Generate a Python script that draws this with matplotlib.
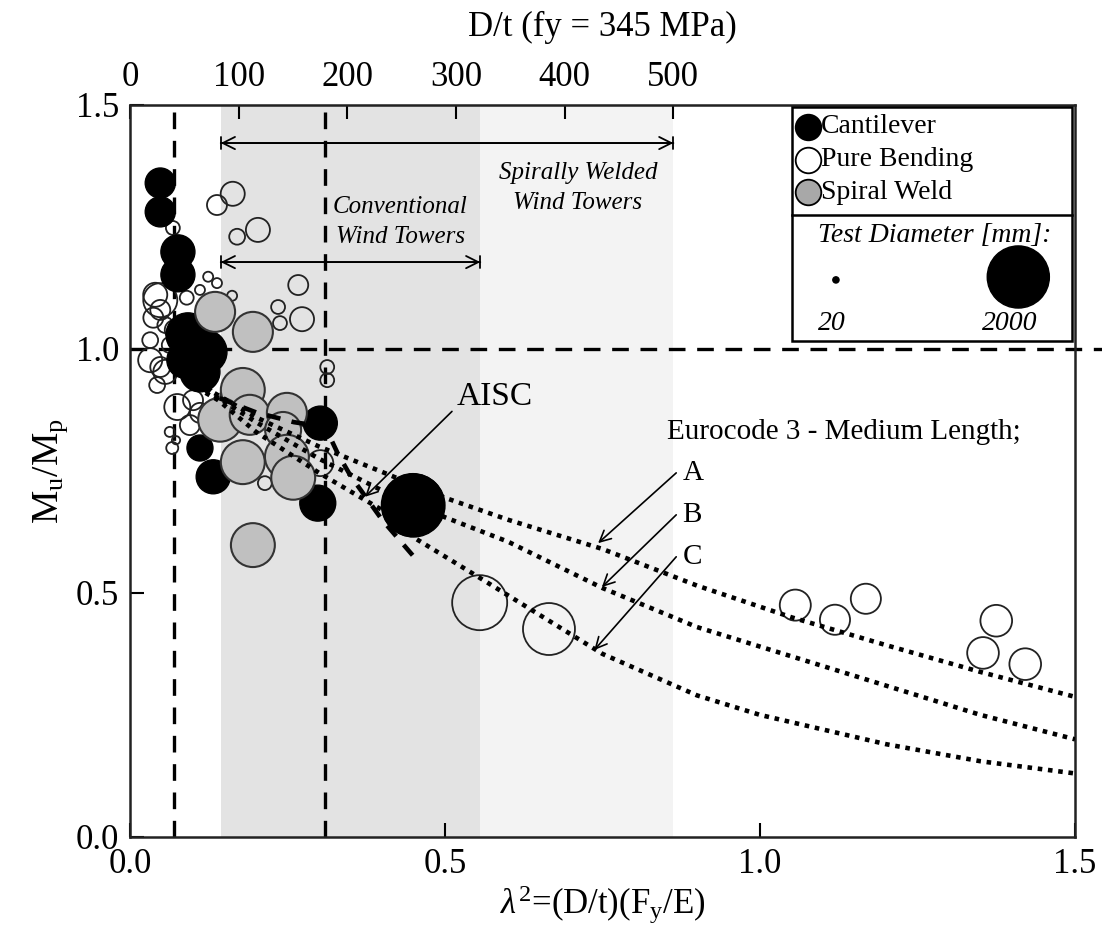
import matplotlib
matplotlib.use("Agg")
import matplotlib.pyplot as plt
from matplotlib.patches import Rectangle

plt.rcParams["font.family"] = ["Liberation Serif", "DejaVu Serif"]
plt.rcParams["mathtext.fontset"] = "custom"
plt.rcParams["mathtext.rm"] = "Liberation Serif"
plt.rcParams["mathtext.it"] = "Liberation Serif:italic"

FY_OVER_E = 345.0 / 200000.0  # top axis: D/t at fy = 345 MPa

# test data: x = lambda^2, y = Mu/Mp, d = test diameter [mm]
cant_x = [0.048, 0.048, 0.076, 0.076, 0.092, 0.119, 0.111, 0.087, 0.111, 0.132, 0.302, 0.298, 0.449]
cant_y = [1.340, 1.281, 1.199, 1.152, 1.029, 0.994, 0.953, 0.977, 0.797, 0.738, 0.848, 0.684, 0.680]
cant_d = [470, 470, 600, 600, 1000, 1000, 830, 670, 350, 600, 600, 670, 2050]

spiral_x = [0.135, 0.195, 0.179, 0.143, 0.190, 0.249, 0.243, 0.179, 0.249, 0.259, 0.195]
spiral_y = [1.076, 1.035, 0.916, 0.855, 0.865, 0.869, 0.834, 0.768, 0.779, 0.736, 0.598]
spiral_d = [830, 830, 1000, 1000, 830, 830, 670, 1000, 1000, 1000, 1000]

bend_x = [0.555, 0.665, 1.056, 1.119, 1.168, 1.375, 1.354, 1.421,
          0.138, 0.163, 0.170, 0.203, 0.267, 0.273, 0.235, 0.238, 0.162, 0.124,
          0.138, 0.111, 0.090, 0.313, 0.313, 0.068, 0.040, 0.048, 0.037, 0.056,
          0.048, 0.048, 0.043, 0.032, 0.056, 0.075, 0.100, 0.111, 0.095, 0.063,
          0.067, 0.073, 0.214, 0.302, 0.071, 0.063, 0.032, 0.156, 0.146]
bend_y = [0.480, 0.426, 0.475, 0.445, 0.488, 0.443, 0.377, 0.354,
          1.295, 1.318, 1.230, 1.244, 1.131, 1.061, 1.086, 1.053, 1.109, 1.148,
          1.135, 1.121, 1.105, 0.963, 0.936, 1.248, 1.111, 1.080, 1.064, 1.049,
          1.100, 0.963, 0.926, 0.977, 0.953, 0.881, 0.895, 0.869, 0.844, 0.830,
          0.797, 0.813, 0.725, 0.766, 1.039, 1.008, 1.018, 0.906, 1.090]
bend_d = [1570, 1400, 500, 470, 470, 520, 520, 520,
          207, 300, 130, 300, 207, 300, 100, 100, 52, 52,
          52, 52, 100, 100, 100, 100, 300, 207, 207, 130,
          600, 207, 130, 300, 300, 350, 207, 207, 207, 52,
          75, 35, 100, 350, 207, 130, 130, 130, 75]

# design curves
ec_a_x = [0.12, 0.14, 0.2, 0.3, 0.4, 0.5, 0.6, 0.75, 0.9, 1.05, 1.2, 1.35, 1.5]
ec_a_y = [0.92, 0.905, 0.86, 0.80, 0.748, 0.695, 0.65, 0.59, 0.515, 0.45, 0.393, 0.338, 0.287]
ec_b_x = [0.12, 0.14, 0.2, 0.3, 0.4, 0.5, 0.6, 0.75, 0.9, 1.0, 1.2, 1.35, 1.5]
ec_b_y = [0.915, 0.90, 0.85, 0.775, 0.71, 0.655, 0.605, 0.51, 0.43, 0.39, 0.31, 0.25, 0.20]
ec_c_x = [0.12, 0.14, 0.2, 0.3, 0.4, 0.455, 0.55, 0.65, 0.75, 0.9, 1.0, 1.2, 1.35, 1.5]
ec_c_y = [0.91, 0.895, 0.83, 0.746, 0.67, 0.61, 0.535, 0.455, 0.375, 0.29, 0.25, 0.19, 0.155, 0.13]
aisc_x = [0.07, 0.10, 0.14, 0.20, 0.26, 0.31, 0.33, 0.35, 0.40, 0.45]
aisc_y = [1.02, 0.95, 0.90, 0.87, 0.85, 0.84, 0.785, 0.74, 0.65, 0.575]

# limits: AISC compact / slender, tower ranges
aisc_limits = [0.07, 0.31]
conv_range = [0.144, 0.556]
spiral_range = [0.144, 0.8625]
dt_ticks = [0, 100, 200, 300, 400, 500]

SIZE_PER_MM = 1.0

fig = plt.figure(figsize=(11.02, 9.51), dpi=100)
ax = fig.add_axes([0.118, 0.12, 0.8575, 0.7696])

ax.axvspan(conv_range[0], conv_range[1], color="#e3e3e3", lw=0, zorder=0)
ax.axvspan(conv_range[1], spiral_range[1], color="#f3f3f3", lw=0, zorder=0)

for xv in aisc_limits:
    ax.axvline(xv, color="k", lw=2.4, ls=(0, (5, 3.5)), zorder=1)
ax.plot([0, 1.545], [1.0, 1.0], color="k", lw=2.4, ls=(0, (5, 3.5)), zorder=1, clip_on=False)

ax.scatter(bend_x, bend_y, s=[d * SIZE_PER_MM for d in bend_d], facecolors="none",
           edgecolors="#222222", linewidths=1.3, zorder=3)
ax.scatter(cant_x, cant_y, s=[d * SIZE_PER_MM for d in cant_d], c="k",
           edgecolors="k", linewidths=1.0, zorder=4)
ax.scatter(spiral_x, spiral_y, s=[d * SIZE_PER_MM for d in spiral_d], c="#c0c0c0",
           edgecolors="#333333", linewidths=1.5, zorder=5)

dot = (0, (1, 1.25))
ax.plot(ec_a_x, ec_a_y, color="k", lw=3.3, ls=dot, zorder=6)
ax.plot(ec_b_x, ec_b_y, color="k", lw=3.3, ls=dot, zorder=6)
ax.plot(ec_c_x, ec_c_y, color="k", lw=3.3, ls=dot, zorder=6)
ax.plot(aisc_x, aisc_y, color="k", lw=3.3, ls=(0, (3, 2.5)), zorder=6)

# largest test drawn over the curves
big = [i for i, d in enumerate(cant_d) if d > 1500]
ax.scatter([cant_x[i] for i in big], [cant_y[i] for i in big],
           s=[cant_d[i] * SIZE_PER_MM for i in big], c="k", zorder=7)

# range arrows
for rng, yv in [(spiral_range, 1.422), (conv_range, 1.178)]:
    ax.annotate("", xy=(rng[0], yv), xytext=(rng[1], yv),
                arrowprops=dict(arrowstyle="<->", lw=1.3, color="k", mutation_scale=22,
                                shrinkA=0, shrinkB=0), zorder=8)
    ax.annotate("", xy=(rng[0], yv), xytext=(rng[1], yv),
                arrowprops=dict(arrowstyle="|-|, widthA=0.45, widthB=0.45", lw=1.3, color="k",
                                shrinkA=0, shrinkB=0), zorder=8)
ax.text(0.429, 1.26, "Conventional\nWind Towers", style="italic", fontsize=18,
        ha="center", va="center", linespacing=1.45)
ax.text(0.711, 1.33, "Spirally Welded\nWind Towers", style="italic", fontsize=18,
        ha="center", va="center", linespacing=1.45)

# AISC annotation
ax.text(0.579, 0.902, "AISC", fontsize=24, ha="center", va="center")
ax.annotate("", xy=(0.373, 0.697), xytext=(0.511, 0.872),
            arrowprops=dict(arrowstyle="->", lw=1.2, color="k", mutation_scale=20,
                            shrinkA=0, shrinkB=0), zorder=8)

# Eurocode annotation
ax.text(0.852, 0.83, "Eurocode 3 - Medium Length;", fontsize=21, ha="left", va="center")
for lab, tip, ly in [("A", (0.743, 0.602), 0.746), ("B", (0.749, 0.512), 0.66),
                     ("C", (0.737, 0.383), 0.574)]:
    ax.text(0.877, ly, lab, fontsize=21, ha="left", va="center")
    ax.annotate("", xy=tip, xytext=(0.867, ly),
                arrowprops=dict(arrowstyle="->", lw=1.2, color="k", mutation_scale=20,
                                shrinkA=0, shrinkB=0), zorder=8)

# legend box
tr = ax.transAxes
ax.add_patch(Rectangle((0.70, 0.678), 0.297, 0.319, transform=tr, fill=True, fc="white",
                       ec="k", lw=1.8, zorder=9))
ax.plot([0.70, 0.997], [0.85, 0.85], color="k", lw=1.8, transform=tr, zorder=10)
for lab, fc, yy in [("Cantilever", "k", 0.970), ("Pure Bending", "white", 0.925),
                    ("Spiral Weld", "#a8a8a8", 0.881)]:
    ax.scatter([0.717], [yy], s=340, c=fc, edgecolors="k", linewidths=1.3,
               transform=tr, zorder=11, clip_on=False)
    ax.text(0.731, yy, lab, fontsize=20, ha="left", va="center", transform=tr, zorder=11)
ax.text(0.852, 0.822, "Test Diameter [mm]:", fontsize=20, style="italic",
        ha="center", va="center", transform=tr, zorder=11)
leg_d = [20, 2000]
ax.scatter([0.747, 0.940], [0.761, 0.765], s=[d * SIZE_PER_MM for d in leg_d], c="k",
           transform=tr, zorder=11, clip_on=False)
ax.text(0.743, 0.702, str(leg_d[0]), fontsize=20, style="italic", ha="center",
        va="center", transform=tr, zorder=11)
ax.text(0.931, 0.702, str(leg_d[1]), fontsize=20, style="italic", ha="center",
        va="center", transform=tr, zorder=11)

ax.set_xlim(0, 1.5)
ax.set_ylim(0, 1.5)
ax.set_xticks([0.0, 0.5, 1.0, 1.5])
ax.set_yticks([0.0, 0.5, 1.0, 1.5])
ax.xaxis.set_major_formatter(plt.FormatStrFormatter("%.1f"))
ax.yaxis.set_major_formatter(plt.FormatStrFormatter("%.1f"))
ax.tick_params(direction="in", length=10, width=1.5, labelsize=25, top=False, right=False, pad=8)
for sp in ax.spines.values():
    sp.set_linewidth(1.8)
    sp.set_color("#222222")

ax.set_xlabel(r"$\lambda^2$=(D/t)(F$_\mathrm{y}$/E)", fontsize=25, labelpad=2)
ax.set_ylabel(r"$\mathrm{M_u/M_p}$", fontsize=27, labelpad=4)

secax = ax.secondary_xaxis("top", functions=(lambda x: x / FY_OVER_E, lambda d: d * FY_OVER_E))
secax.set_xticks(dt_ticks)
secax.tick_params(direction="in", length=10, width=1.5, labelsize=25, pad=8)
secax.set_xlabel("D/t (fy = 345 MPa)", fontsize=25, labelpad=18)

fig.savefig("out.png", dpi=100)
